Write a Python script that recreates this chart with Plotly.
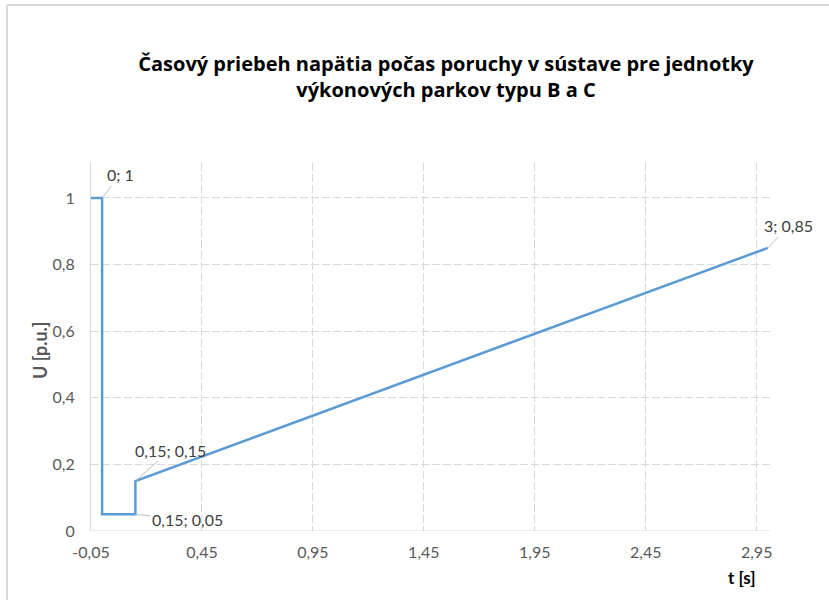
import plotly.graph_objects as go

# Data
t_values = [-0.05, 0, 0, 0.15, 0.15, 3]
u_values = [1, 1, 0.05, 0.05, 0.15, 0.85]
x_tick_vals = [-0.05, 0.45, 0.95, 1.45, 1.95, 2.45, 2.95]
x_tick_text = ["-0,05", "0,45", "0,95", "1,45", "1,95", "2,45", "2,95"]
y_tick_vals = [0, 0.2, 0.4, 0.6, 0.8, 1]
y_tick_text = ["0", "0,2", "0,4", "0,6", "0,8", "1"]
label_points_t = [0, 0.15, 0.15, 3]
label_points_u = [1, 0.15, 0.05, 0.85]
label_texts = ["0; 1", "0,15; 0,15", "0,15; 0,05", "3; 0,85"]
label_offsets = [(18, -23), (35, -31), (52, 5), (21, -22)]

title = "Časový priebeh napätia počas poruchy v sústave pre jednotky<br>výkonových parkov typu B a C"

fig = go.Figure()
fig.add_trace(go.Scatter(
    x=t_values, y=u_values, mode="lines",
    line=dict(color="#5B9BD5", width=2.5),
    showlegend=False, hoverinfo="skip", cliponaxis=False,
))

for tx, uy, txt, (ax, ay) in zip(label_points_t, label_points_u, label_texts, label_offsets):
    fig.add_annotation(
        x=tx, y=uy, text=txt, showarrow=True, arrowhead=0, arrowwidth=1,
        arrowcolor="#bfbfbf", ax=ax, ay=ay,
        font=dict(family="Lato", size=16, color="#404040"),
    )

# outer chart border (top and left edges visible)
fig.add_shape(type="line", xref="paper", yref="paper",
              x0=-0.1237, x1=1.2, y0=1.4293, y1=1.4293,
              line=dict(color="#d9d9d9", width=2))
fig.add_shape(type="line", xref="paper", yref="paper",
              x0=-0.1237, x1=-0.1237, y0=-0.3, y1=1.4293,
              line=dict(color="#d9d9d9", width=2))

fig.update_layout(
    width=829, height=600,
    margin=dict(l=91, r=59, t=163, b=69, autoexpand=False),
    paper_bgcolor="white", plot_bgcolor="white",
    title=dict(text="<b>" + title + "</b>", x=0.538, xanchor="center",
               y=0.882, yanchor="middle",
               font=dict(family="Open Sans", size=20, color="#000000")),
    xaxis=dict(range=[-0.05, 3.01], tickvals=x_tick_vals, ticktext=x_tick_text,
               showgrid=True, gridcolor="#d9d9d9", griddash="8px,3px", gridwidth=1,
               showline=False, zeroline=False, automargin=False,
               ticks="outside", ticklen=7, tickcolor="rgba(0,0,0,0)",
               tickfont=dict(family="Lato", size=16, color="#595959")),
    yaxis=dict(range=[0, 1.105], tickvals=y_tick_vals, ticktext=y_tick_text,
               showgrid=True, gridcolor="#d9d9d9", griddash="8px,3px", gridwidth=1,
               showline=True, linecolor="#d9d9d9", linewidth=1, zeroline=False,
               automargin=False,
               ticks="outside", ticklen=12, tickcolor="rgba(0,0,0,0)",
               tickfont=dict(family="Lato", size=16, color="#595959")),
    font=dict(family="Lato"),
)

fig.add_shape(type="line", xref="paper", yref="y", x0=0, x1=1, y0=0, y1=0,
              line=dict(color="#d9d9d9", width=1), layer="below")

fig.add_annotation(xref="paper", yref="paper", x=-0.075, y=0.492, text="<b>U [p.u.]</b>",
                   showarrow=False, textangle=-90, xanchor="center", yanchor="middle",
                   font=dict(family="Lato", size=18, color="#595959"))
fig.add_annotation(xref="paper", yref="paper", x=0.959, y=-0.125, text="<b>t [s]</b>",
                   showarrow=False, xanchor="center", yanchor="middle",
                   font=dict(family="Lato", size=17, color="#000000"))

fig.write_html("out.html", config={"displayModeBar": False},
               post_script="document.body.style.margin='0';document.body.style.overflow='hidden';")
